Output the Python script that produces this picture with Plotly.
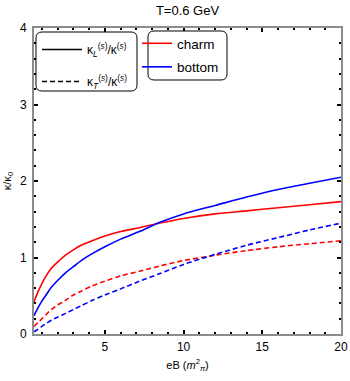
import plotly.graph_objects as go

# ── dados ──────────────────────────────────────────────────────────────
eB = [0.5, 0.75, 1.0, 1.3, 1.6, 2.0, 2.5, 3.0, 3.5, 4.2, 5.0, 6.0, 7.2, 8.5,
      10.0, 12.0, 14.0, 16.0, 18.0, 20.0]

charm_L = [0.42, 0.55, 0.66, 0.77, 0.86, 0.94, 1.03, 1.10, 1.16, 1.22, 1.28, 1.34, 1.39, 1.45,
           1.51, 1.57, 1.61, 1.65, 1.69, 1.73]
bottom_L = [0.24, 0.34, 0.43, 0.52, 0.61, 0.70, 0.80, 0.88, 0.96, 1.05, 1.14, 1.24, 1.34, 1.46,
            1.57, 1.68, 1.79, 1.89, 1.97, 2.05]
charm_T = [0.10, 0.15, 0.20, 0.26, 0.32, 0.38, 0.44, 0.51, 0.56, 0.63, 0.69, 0.76, 0.82, 0.89,
           0.96, 1.03, 1.09, 1.14, 1.18, 1.22]
bottom_T = [0.03, 0.06, 0.10, 0.14, 0.18, 0.22, 0.27, 0.32, 0.37, 0.44, 0.51, 0.59, 0.69, 0.79,
            0.91, 1.04, 1.16, 1.26, 1.36, 1.45]

x_ticks = [5, 10, 15, 20]
y_ticks = [0, 1, 2, 3, 4]

RED = "#ff0000"
BLUE = "#0000ff"
DASH = "5px,3px"
FONT = "Liberation Sans, Arial, sans-serif"

W, H = 350, 381
M = dict(l=34, r=9, t=28, b=47)


def px2paper(px, py):
    pw = W - M["l"] - M["r"]
    ph = H - M["t"] - M["b"]
    return (px - M["l"]) / pw, (H - M["b"] - py) / ph


def rounded_box(x0, y0, x1, y1, r=6):
    """Caixa com cantos arredondados (coords em pixels -> paper)."""
    pts = [
        ("M", x0 + r, y0), ("L", x1 - r, y0), ("Q", x1, y0, x1, y0 + r),
        ("L", x1, y1 - r), ("Q", x1, y1, x1 - r, y1),
        ("L", x0 + r, y1), ("Q", x0, y1, x0, y1 - r),
        ("L", x0, y0 + r), ("Q", x0, y0, x0 + r, y0),
    ]
    path = ""
    for p in pts:
        cmd, coords = p[0], p[1:]
        out = []
        for i in range(0, len(coords), 2):
            a, b = px2paper(coords[i], coords[i + 1])
            out.append(f"{a:.4f},{b:.4f}")
        path += cmd + " ".join(out) + " "
    return dict(type="path", path=path + "Z", xref="paper", yref="paper",
                line=dict(color="black", width=1), fillcolor="white", layer="above")


fig = go.Figure()

curvas = [
    (charm_L, RED, "solid"),
    (bottom_L, BLUE, "solid"),
    (charm_T, RED, DASH),
    (bottom_T, BLUE, DASH),
]
for ys, cor, estilo in curvas:
    fig.add_trace(go.Scatter(
        x=eB, y=ys, mode="lines",
        line=dict(color=cor, width=1.6, dash=estilo, shape="spline", smoothing=0.8),
        showlegend=False, hoverinfo="skip",
    ))

# entradas de legenda
kL = "κ<sub><i>L</i></sub><sup>(<i>s</i>)</sup>/κ<sup>(<i>s</i>)</sup>"
kT = "κ<sub><i>T</i></sub><sup>(<i>s</i>)</sup>/κ<sup>(<i>s</i>)</sup>"
for i, (nome, estilo) in enumerate([(kL, "solid"), (kT, DASH)]):
    fig.add_trace(go.Scatter(x=[None], y=[None], mode="lines", name=nome,
                             line=dict(color="black", width=1.6, dash=estilo),
                             legend="legend", legendgroup=f"k{i}"))
for i, (nome, cor) in enumerate([("charm", RED), ("bottom", BLUE)]):
    fig.add_trace(go.Scatter(x=[None], y=[None], mode="lines", name=nome,
                             line=dict(color=cor, width=1.6),
                             legend="legend2", legendgroup=f"q{i}"))

lx1, ly1 = px2paper(37, 35)
lx2, ly2 = px2paper(137, 28)

fig.update_layout(
    width=W, height=H,
    margin=dict(M, autoexpand=False),
    plot_bgcolor="white",
    paper_bgcolor="white",
    font=dict(family=FONT, size=12, color="black"),
    title=dict(text="T=0.6 GeV", x=0.5, xref="paper", y=1 - 10 / H, yanchor="middle",
               font=dict(size=13)),
    shapes=[rounded_box(36, 32, 137, 91), rounded_box(148, 31, 227, 80)],
    legend=dict(x=lx1, y=ly1, xanchor="left", yanchor="top", bgcolor="rgba(0,0,0,0)",
                borderwidth=0, font=dict(size=12), tracegroupgap=13,
                traceorder="grouped", itemwidth=40),
    legend2=dict(x=lx2, y=ly2, xanchor="left", yanchor="top", bgcolor="rgba(0,0,0,0)",
                 borderwidth=0, font=dict(size=13.5), tracegroupgap=3,
                 traceorder="grouped"),
)

eixo = dict(
    showgrid=False, zeroline=False, showline=True, linecolor="#8c8c8c", linewidth=2,
    mirror="ticks", ticks="inside", ticklen=4, tickwidth=1.5, tickcolor="black",
    tickfont=dict(size=12), ticklabeloverflow="allow", automargin=False,
)
fig.update_xaxes(
    range=[0.5, 20], tickvals=x_ticks, ticklabelstandoff=1,
    minor=dict(dtick=1, tick0=0, ticks="inside", ticklen=2, tickwidth=1.5, tickcolor="black"),
    title=dict(text="eB (<i>m</i><sup>2</sup><sub><i>π</i></sub>)", font=dict(size=11), standoff=8),
    **eixo,
)
fig.update_yaxes(
    range=[0, 4], tickvals=y_ticks, ticklabelstandoff=3,
    minor=dict(dtick=0.2, tick0=0, ticks="inside", ticklen=2, tickwidth=1.5, tickcolor="black"),
    title=dict(text="κ/κ<sub>0</sub>", font=dict(size=11), standoff=6),
    **eixo,
)

# a página tem margem de 8px no body; zera para a figura ocupar a janela toda
fig.write_html("out.html", config={"displayModeBar": False},
               post_script="document.body.style.margin='0';")
